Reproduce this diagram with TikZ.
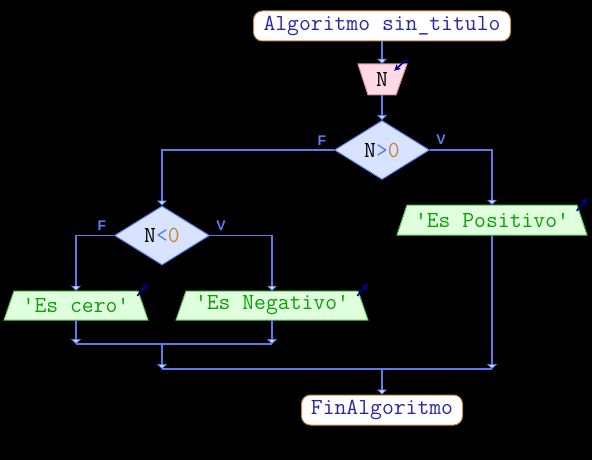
\documentclass[tikz,border=0pt]{standalone}
\usepackage{fontspec}
\setmonofont{Latin Modern Mono}
\setsansfont{Liberation Sans}
\usetikzlibrary{shapes.geometric,arrows.meta}

\definecolor{flujo}{RGB}{90,125,235}
\definecolor{puntafill}{RGB}{215,225,255}
\definecolor{decfill}{RGB}{216,228,255}
\definecolor{entfill}{RGB}{255,218,228}
\definecolor{entborde}{RGB}{215,140,165}
\definecolor{salfill}{RGB}{224,255,220}
\definecolor{salborde}{RGB}{90,195,90}
\definecolor{termborde}{RGB}{200,140,60}
\definecolor{textoazul}{RGB}{40,40,170}
\definecolor{textoverde}{RGB}{10,160,10}
\definecolor{naranja}{RGB}{200,130,50}
\definecolor{marca}{RGB}{0,0,160}

\begin{document}
\begin{tikzpicture}[x=1pt,y=-1pt,
    font=\ttfamily\fontsize{23}{23}\selectfont,
    linea/.style={draw=flujo,line width=1.9pt},
    flecha/.style={linea,-{Triangle[width=10pt,length=5pt,line width=0.8pt,fill=puntafill]}},
    terminal/.style={rectangle,rounded corners=9pt,draw=termborde,fill=white,line width=1pt,
        minimum height=30pt,inner sep=0pt,text=textoazul},
    decision/.style={diamond,draw=flujo,fill=decfill,line width=1pt,
        minimum width=95pt,minimum height=59pt,inner sep=0pt},
    caja/.style={inner sep=0pt,minimum height=30pt},
    entrada/.style={draw=entborde,fill=entfill,line width=1pt},
    salida/.style={draw=salborde,fill=salfill,line width=1pt},
    etiqueta/.style={font=\sffamily\bfseries\fontsize{14}{14}\selectfont,text=flujo},
    marcador/.style={draw=marca,line width=1.6pt,-{Stealth[length=6pt,width=6pt,inset=1pt]}}]

    \useasboundingbox (0,0) rectangle (592,460);
    \fill[black] (0,0) rectangle (592,460);

    % formas de entrada y salida
    \draw[entrada] (358,64) -- (407,64) -- (396,95) -- (368,95) -- cycle;
    \draw[salida] (407,205) -- (577,205) -- (587,235) -- (397,235) -- cycle;
    \draw[salida] (14,291) -- (138,291) -- (148,320) -- (4,320) -- cycle;
    \draw[salida] (186,291) -- (358,291) -- (368,320) -- (176,320) -- cycle;

    \node[terminal,minimum width=257pt] (inicio) at (382,26) {Algoritmo sin\_titulo};
    \node[caja,minimum width=49pt,minimum height=31pt] (leer) at (382,79.5) {N};
    \node[decision] (d1) at (382,150) {N{\color{flujo}>}{\color{naranja}0}};
    \node[decision] (d2) at (162,235.5) {N{\color{flujo}<}{\color{naranja}0}};
    \node[caja,minimum width=190pt,text=textoverde] (pos) at (492,220) {'Es Positivo'};
    \node[caja,minimum width=144pt,minimum height=29pt,text=textoverde] (cero) at (76,305.5) {'Es cero'};
    \node[caja,minimum width=192pt,minimum height=29pt,text=textoverde] (neg) at (272,305.5) {'Es Negativo'};
    \node[terminal,minimum width=161pt] (fin) at (382,410) {FinAlgoritmo};

    \node[etiqueta] (f1) at ([shift={(-12,-9)}]d1.west) {F};
    \node[etiqueta] (v1) at ([shift={(11,-10)}]d1.east) {V};
    \node[etiqueta] (f2) at ([shift={(-12,-10)}]d2.west) {F};
    \node[etiqueta] (v2) at ([shift={(11,-10)}]d2.east) {V};

    \coordinate (u1) at (162,344);
    \coordinate (u2) at (382,369);

    % conectores
    \draw[flecha] (inicio) -- (leer);
    \draw[flecha] (leer) -- (d1);
    \draw[flecha] (d1.west) -| (d2.north);
    \draw[flecha] (d1.east) -| (pos.north);
    \draw[flecha] (d2.west) -| (cero.north);
    \draw[flecha] (d2.east) -| (neg.north);
    \draw[flecha] (cero.south) -- (cero.south |- u1);
    \draw[flecha] (neg.south) -- (neg.south |- u1);
    \draw[linea] (cero.south |- u1) -- (neg.south |- u1);
    \draw[flecha] (u1) -- (u1 |- u2);
    \draw[flecha] (pos.south) -- (pos.south |- u2);
    \draw[linea] (u1 |- u2) -- (pos.south |- u2);
    \draw[flecha] (u2) -- (fin.north);

    % marcas de lectura y escritura
    \draw[marcador] ([shift={(0.5,-5)}]leer.north east) -- ++(-13,12);
    \draw[marcador] ([shift={(-10.5,6)}]pos.north east) -- ++(11,-13);
    \draw[marcador] ([shift={(-11,5)}]cero.north east) -- ++(11,-12);
    \draw[marcador] ([shift={(-11,5)}]neg.north east) -- ++(11,-12);
\end{tikzpicture}
\end{document}
